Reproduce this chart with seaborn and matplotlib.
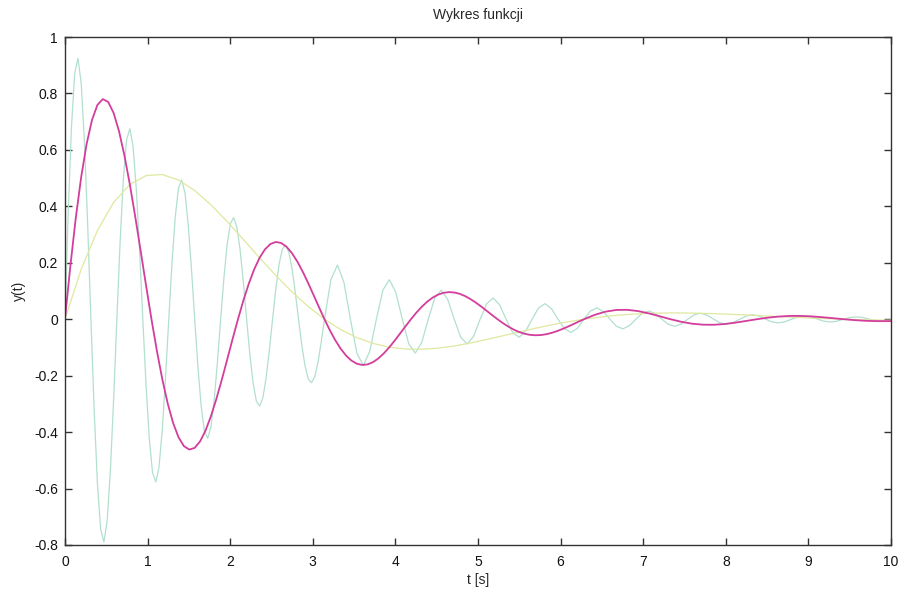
import numpy as np
import pandas as pd
import matplotlib
matplotlib.use("Agg")
import matplotlib.pyplot as plt
import seaborn as sns

# probki czasu (rowny krok; gesciej na poczatku) i odczytane wartosci y(t)
t_cyan = np.concatenate([np.arange(80) * np.pi / 80,
                         np.arange(40, 128) * np.pi / 40, [10.0]])
y_cyan = [0, 0.375, 0.680, 0.871, 0.924, 0.838, 0.629, 0.334,
          0, -0.321, -0.581, -0.744, -0.790, -0.716, -0.537, -0.285,
          0, 0.274, 0.497, 0.636, 0.675, 0.612, 0.459, 0.244,
          0, -0.234, -0.424, -0.544, -0.577, -0.523, -0.392, -0.208,
          0, 0.200, 0.363, 0.465, 0.493, 0.447, 0.335, 0.178,
          0, -0.171, -0.310, -0.397, -0.422, -0.382, -0.287, -0.152,
          0, 0.146, 0.265, 0.339, 0.360, 0.326, 0.245, 0.130,
          0, -0.125, -0.226, -0.290, -0.308, -0.279, -0.209, -0.111,
          0, 0.107, 0.194, 0.248, 0.263, 0.238, 0.179, 0.095,
          0, -0.091, -0.165, -0.212, -0.225, -0.204, -0.153, -0.081,
          0, 0.141, 0.192, 0.131, 0, -0.121, -0.164, -0.112,
          0, 0.103, 0.140, 0.095, 0, -0.088, -0.120, -0.082,
          0, 0.075, 0.103, 0.070, 0, -0.064, -0.088, -0.060,
          0, 0.055, 0.075, 0.051, 0, -0.047, -0.064, -0.043,
          0, 0.040, 0.055, 0.037, 0, -0.034, -0.047, -0.032,
          0, 0.029, 0.040, 0.027, 0, -0.025, -0.034, -0.023,
          0, 0.021, 0.029, 0.020, 0, -0.018, -0.025, -0.017,
          0, 0.016, 0.021, 0.014, 0, -0.013, -0.018, -0.012,
          0, 0.011, 0.016, 0.011, 0, -0.010, -0.013, -0.009,
          0, 0.008, 0.011, 0.008, 0, -0.007, -0.010, -0.007,
          0, 0.006, 0.008, 0.006, 0, -0.005, -0.007, -0.005,
          -0.003]

t_mag = np.concatenate([np.arange(96) * np.pi / 48,
                        np.arange(48, 77) * np.pi / 24, [10.0]])
y_mag = [0, 0.1888, 0.3584, 0.5036, 0.6204, 0.7060, 0.7592, 0.7800,
         0.7697, 0.7306, 0.6660, 0.5801, 0.4775, 0.3631, 0.2420, 0.1194,
         0, -0.1118, -0.2123, -0.2983, -0.3675, -0.4182, -0.4497, -0.4620,
         -0.4559, -0.4328, -0.3945, -0.3436, -0.2828, -0.2151, -0.1434, -0.0707,
         0, 0.0663, 0.1258, 0.1767, 0.2177, 0.2477, 0.2664, 0.2737,
         0.2701, 0.2564, 0.2337, 0.2036, 0.1676, 0.1274, 0.0849, 0.0419,
         0, -0.0393, -0.0745, -0.1047, -0.1290, -0.1468, -0.1578, -0.1621,
         -0.1600, -0.1519, -0.1385, -0.1206, -0.0993, -0.0755, -0.0503, -0.0248,
         0, 0.0233, 0.0441, 0.0620, 0.0764, 0.0869, 0.0935, 0.0960,
         0.0948, 0.0900, 0.0820, 0.0714, 0.0588, 0.0447, 0.0298, 0.0147,
         0, -0.0138, -0.0261, -0.0367, -0.0453, -0.0515, -0.0554, -0.0569,
         -0.0562, -0.0533, -0.0486, -0.0423, -0.0348, -0.0265, -0.0177, -0.0087,
         0, 0.0155, 0.0268, 0.0328, 0.0333, 0.0288, 0.0206, 0.0105,
         0, -0.0092, -0.0159, -0.0194, -0.0197, -0.0171, -0.0122, -0.0062,
         0, 0.0054, 0.0094, 0.0115, 0.0117, 0.0101, 0.0072, 0.0037,
         0, -0.0032, -0.0056, -0.0068, -0.0069,
         -0.0067]

t_yel = np.append(np.arange(51) * np.pi / 16, 10.0)
y_yel = [0, 0.1768, 0.3145, 0.4138, 0.4775, 0.5089, 0.5126, 0.4933,
         0.4559, 0.4054, 0.3461, 0.2824, 0.2177, 0.1550, 0.0968, 0.0447,
         0, -0.0368, -0.0654, -0.0860, -0.0993, -0.1058, -0.1066, -0.1026,
         -0.0948, -0.0843, -0.0720, -0.0587, -0.0453, -0.0322, -0.0201, -0.0093,
         0, 0.0076, 0.0136, 0.0179, 0.0206, 0.0220, 0.0222, 0.0213,
         0.0197, 0.0175, 0.0150, 0.0122, 0.0094, 0.0067, 0.0042, 0.0019,
         0, -0.0016, -0.0028,
         -0.0037]

x_ticks = [0, 1, 2, 3, 4, 5, 6, 7, 8, 9, 10]
y_ticks = [-0.8, -0.6, -0.4, -0.2, 0, 0.2, 0.4, 0.6, 0.8, 1]
y_tick_labels = ["-0.8", "-0.6", "-0.4", "-0.2", "0", "0.2", "0.4", "0.6", "0.8", "1"]

sns.set_style("ticks", {"xtick.direction": "in", "ytick.direction": "in"})
plt.rcParams['font.family'] = ['Liberation Sans', 'DejaVu Sans']

fig = plt.figure(figsize=(9.01, 5.93), dpi=100)
ax = fig.add_axes([0.0721, 0.081, 0.9168, 0.8566])

sns.lineplot(x=t_cyan, y=y_cyan, color="#b2e0cd", linewidth=0.9, estimator=None, ax=ax)
sns.lineplot(x=t_yel, y=y_yel, color="#e0e89f", linewidth=0.9, estimator=None, ax=ax)
sns.lineplot(x=t_mag, y=y_mag, color="#d33d9c", linewidth=1.3, estimator=None, ax=ax)

ax.set_xlim(0, 10)
ax.set_ylim(-0.8, 1)
ax.set_xticks(x_ticks)
ax.set_xticklabels([str(v) for v in x_ticks])
ax.set_yticks(y_ticks)
ax.set_yticklabels(y_tick_labels)
ax.tick_params(top=True, right=True, direction="in", length=5, width=1,
               colors="#333333", labelsize=10, labelcolor="#111111", pad=5)
ax.tick_params(axis="x", pad=7)
for s in ax.spines.values():
    s.set_visible(True)
    s.set_color("#333333")
    s.set_linewidth(1.0)

ax.set_title("Wykres funkcji", fontsize=10, pad=13)
ax.set_xlabel("t [s]", fontsize=10, labelpad=3)
ax.set_ylabel("y(t)", fontsize=10, labelpad=6)

fig.savefig("out.png", dpi=100)
